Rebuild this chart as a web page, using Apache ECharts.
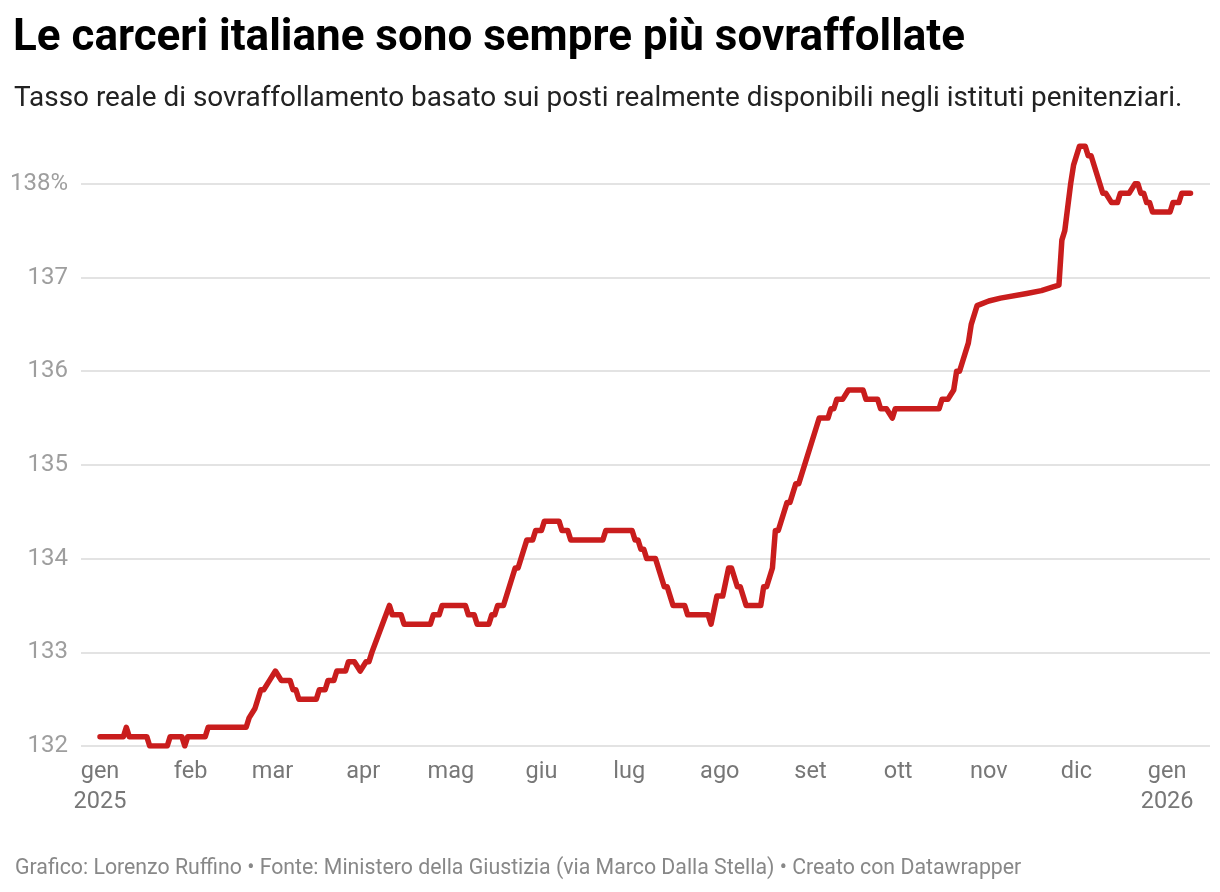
<!DOCTYPE html>
<html>
<head>
<meta charset="utf-8">
<script src="https://cdn.jsdelivr.net/npm/echarts@6/dist/echarts.min.js"></script>
<style>
html,body{margin:0;padding:0;background:#fff;}
#chart{width:1220px;height:892px;}
</style>
</head>
<body>
<div id="chart"></div>
<script>
const dates = [
'2025-01-01','2025-01-09','2025-01-10','2025-01-11','2025-01-17','2025-01-18','2025-01-24','2025-01-25','2025-01-29','2025-01-30',
'2025-01-31','2025-02-06','2025-02-07','2025-02-20','2025-02-21','2025-02-23','2025-02-25','2025-02-26','2025-02-28','2025-03-02',
'2025-03-04','2025-03-07','2025-03-08','2025-03-09','2025-03-10','2025-03-16','2025-03-17','2025-03-19','2025-03-20','2025-03-22',
'2025-03-23','2025-03-26','2025-03-27','2025-03-29','2025-03-31','2025-04-02','2025-04-03','2025-04-04','2025-04-10','2025-04-11',
'2025-04-14','2025-04-15','2025-04-24','2025-04-25','2025-04-27','2025-04-28','2025-05-06','2025-05-07','2025-05-09','2025-05-10',
'2025-05-14','2025-05-15','2025-05-16','2025-05-17','2025-05-19','2025-05-23','2025-05-24','2025-05-27','2025-05-29','2025-05-30',
'2025-06-01','2025-06-02','2025-06-07','2025-06-08','2025-06-10','2025-06-11','2025-06-22','2025-06-23','2025-07-02','2025-07-03',
'2025-07-04','2025-07-05','2025-07-06','2025-07-07','2025-07-10','2025-07-13','2025-07-14','2025-07-16','2025-07-20','2025-07-21',
'2025-07-28','2025-07-29','2025-07-31','2025-08-02','2025-08-04','2025-08-05','2025-08-07','2025-08-08','2025-08-10','2025-08-15',
'2025-08-16','2025-08-17','2025-08-19','2025-08-20','2025-08-21','2025-08-24','2025-08-25','2025-08-27','2025-08-28','2025-09-03',
'2025-09-04','2025-09-07','2025-09-08','2025-09-09','2025-09-10','2025-09-12','2025-09-14','2025-09-19','2025-09-20','2025-09-24',
'2025-09-25','2025-09-27','2025-09-29','2025-09-30','2025-10-15','2025-10-16','2025-10-18','2025-10-20','2025-10-21','2025-10-22',
'2025-10-25','2025-10-26','2025-10-28','2025-11-01','2025-11-05','2025-11-14','2025-11-19','2025-11-23','2025-11-25','2025-11-26',
'2025-11-27','2025-11-29','2025-11-30','2025-12-02','2025-12-04','2025-12-05','2025-12-06','2025-12-10','2025-12-11','2025-12-13',
'2025-12-15','2025-12-16','2025-12-19','2025-12-21','2025-12-22','2025-12-23','2025-12-24','2025-12-25','2025-12-26','2025-12-27',
'2026-01-02','2026-01-03','2026-01-05','2026-01-06','2026-01-09'
];
const values = [
132.1,132.1,132.2,132.1,132.1,132.0,132.0,132.1,132.1,132.0,
132.1,132.1,132.2,132.2,132.3,132.4,132.6,132.6,132.7,132.8,
132.7,132.7,132.6,132.6,132.5,132.5,132.6,132.6,132.7,132.7,
132.8,132.8,132.9,132.9,132.8,132.9,132.9,133.0,133.5,133.4,
133.4,133.3,133.3,133.4,133.4,133.5,133.5,133.4,133.4,133.3,
133.3,133.4,133.4,133.5,133.5,133.9,133.9,134.2,134.2,134.3,
134.3,134.4,134.4,134.3,134.3,134.2,134.2,134.3,134.3,134.2,
134.2,134.1,134.1,134.0,134.0,133.7,133.7,133.5,133.5,133.4,
133.4,133.3,133.6,133.6,133.9,133.9,133.7,133.7,133.5,133.5,
133.7,133.7,133.9,134.3,134.3,134.6,134.6,134.8,134.8,135.4,
135.5,135.5,135.6,135.6,135.7,135.7,135.8,135.8,135.7,135.7,
135.6,135.6,135.5,135.6,135.6,135.7,135.7,135.8,136.0,136.0,
136.3,136.5,136.7,136.75,136.78,136.83,136.86,136.9,136.92,137.4,
137.5,138.0,138.2,138.4,138.4,138.3,138.3,137.9,137.9,137.8,
137.8,137.9,137.9,138.0,138.0,137.9,137.9,137.8,137.8,137.7,
137.7,137.8,137.8,137.9,137.9
];
const monthTicks = ['2025-01-01','2025-02-01','2025-03-01','2025-04-01','2025-05-01','2025-06-01','2025-07-01','2025-08-01','2025-09-01','2025-10-01','2025-11-01','2025-12-01','2026-01-01'];
const monthLabels = ['gen\n2025','feb','mar','apr','mag','giu','lug','ago','set','ott','nov','dic','gen\n2026'];

function toTs(s){ const p = s.split(/[- :]/).map(Number); return Date.UTC(p[0], p[1]-1, p[2], p[3]||0, p[4]||0); }
const tickTs = monthTicks.map(toTs);
const labelMap = {};
tickTs.forEach((t,i)=>{ labelMap[t] = monthLabels[i]; });

const chart = echarts.init(document.getElementById('chart'), null, {renderer:'canvas'});
const FONT = 'Roboto';
chart.setOption({
  animation:false,
  backgroundColor:'#ffffff',
  title:[
    {text:'Le carceri italiane sono sempre più sovraffollate', left:8, top:12,
     textStyle:{fontFamily:FONT, fontSize:44, fontWeight:'bold', color:'#000000'}},
    {text:'Tasso reale di sovraffollamento basato sui posti realmente disponibili negli istituti penitenziari.', left:9, top:80,
     textStyle:{fontFamily:FONT, fontSize:27.9, fontWeight:'normal', color:'#222222'}},
    {text:'Grafico: Lorenzo Ruffino • Fonte: Ministero della Giustizia (via Marco Dalla Stella) • Creato con Datawrapper', left:10, top:853,
     textStyle:{fontFamily:FONT, fontSize:21.3, fontWeight:'normal', color:'#888888'}}
  ],
  grid:{left:81, right:10, top:137, bottom:146, containLabel:false},
  xAxis:{
    type:'value',
    min: toTs('2024-12-25 12:00'),
    max: toTs('2026-01-15 16:00'),
    axisLine:{show:false},
    axisTick:{show:false},
    splitLine:{show:false},
    axisLabel:{
      customValues: tickTs,
      showMinLabel:true, showMaxLabel:true,
      margin:11,
      fontFamily:FONT, fontSize:23.5, color:'#777777', lineHeight:30,
      hideOverlap:false,
      formatter:function(v){ return labelMap[v] !== undefined ? labelMap[v] : ''; }
    }
  },
  yAxis:{
    type:'value',
    min:132, max:138.5, interval:1,
    axisLine:{show:false},
    axisTick:{show:false},
    splitLine:{showMaxLine:false, lineStyle:{color:'#e3e3e3', width:2}},
    axisLabel:{
      margin:13, align:'right',
      showMaxLabel:false,
      fontFamily:FONT, fontSize:24, color:'#9e9e9e',
      formatter:function(v){ if (v > 138) return ''; return v===138 ? '138%' : String(v); }
    }
  },
  series:[{
    type:'line',
    data: dates.map((d,i)=>[toTs(d), values[i]]),
    showSymbol:false,
    symbol:'none',
    lineStyle:{color:'#c91d1d', width:5.5, cap:'round', join:'round'},
    smooth:false
  }]
});
</script>
</body>
</html>
